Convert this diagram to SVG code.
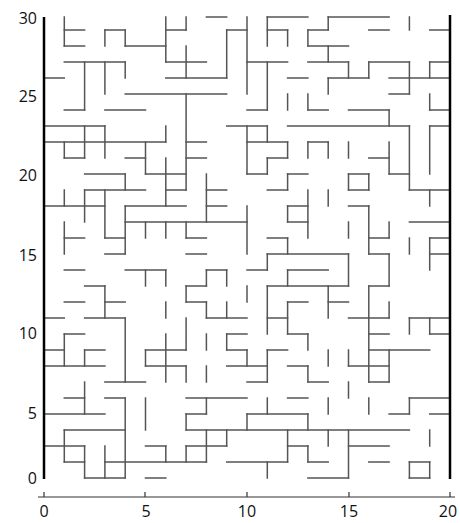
<svg xmlns="http://www.w3.org/2000/svg" width="460" height="523" viewBox="0 0 460 523">
<style>
.m path{fill:none;stroke:#555;stroke-width:1.5;vector-effect:non-scaling-stroke;stroke-linecap:square}
.b{fill:none;stroke:#000;stroke-width:2.5}
.ax{fill:none;stroke:#333;stroke-width:1.2}
text{font-family:"Open Sans","Liberation Sans",sans-serif;font-size:16px;fill:#111}
</style>
<rect width="460" height="523" fill="#fff"/>
<g id="maze" class="m" transform="matrix(20.3,0,0,16,44,14)">
<path id="h" d="M8 .19H9M11 .19H13M14 .19H17
M1 1H2M3 1H4M6 1H7M9 1H10M11 1H12M13 1H14M16 1H17M19 1H20
M1 2H2M4 2H6M13 2H15
M1 3H4M6 3H8M10 3H12M13 3H15M16 3H18M19 3H20
M0 4H1M6 4H9M12 4H13M14 4H16M17 4H20
M4 5H9M17 5H18
M1 6H2M3 6H5M10 6H11M13 6H14M15 6H17M19 6H20
M0 7H3M9 7H11M12 7H18M19 7H20
M0 8H6M7 8H8M10 8H12M13 8H14
M1 9H2M4 9H5M7 9H8M11 9H12M16 9H17
M2 10H4M5 10H7M10 10H11M12 10H13M15 10H16M17 10H18
M2 11H5M6 11H7M8 11H9M11 11H12M15 11H16M18 11H20
M0 12H3M4 12H7M8 12H9M12 12H13M15 12H16
M4 13H10M12 13H13M18 13H20
M1 14H2M3 14H4M7 14H8M11 14H12M16 14H17M19 14H20
M3 15H4M7 15H8M11 15H15M16 15H17M19 15H20
M1 16H2M4 16H6M8 16H9M10 16H11M12 16H14
M2 17H3M7 17H8M11 17H15M16 17H17
M1 18H2M3 18H4M7 18H8M12 18H13M14 18H15
M0 19H1M2 19H4M8 19H10M11 19H12M15 19H17M18 19H20
M1 20H2M9 20H10M12 20H13M16 20H17M19 20H20
M0 21H1M2 21H3M5 21H7M9 21H10M11 21H12M16 21H19
M0 22H3M5 22H7M9 22H11M12 22H13M15 22H17
M3 23H5M10 23H11M13 23H14M16 23H17
M1 24H2M3 24H4M7 24H10M12 24H13M18 24H20
M0 25H3M7 25H8M10 25H13M17 25H18M19 25H20
M1 26H4M7 26H18
M0 27H2M5 27H6M7 27H9M12 27H13M15 27H17
M1 28H2M3 28H8M9 28H12M13 28H14M16 28H17M18 28H19
M2 29H4M5 29H6M13 29H15M18 29H19"/>
<path id="v" d="M1 .19V2M1 8V9M1 11V12M1 13V15M1 20V22M1 26V28
M2 3V6M2 7V9M2 11V13M2 21V22M2 23V25M2 27V29
M3 1V2M3 3V5M3 7V9M3 11V14M3 17V19M3 27V29
M4 1V2M4 3V4M4 10V11M4 12V15M4 19V23M4 24V29
M5 8V10M5 13V14M5 16V17M5 21V22M5 24V26
M6 .19V3M6 7V8M6 9V12M6 13V14M6 16V17M6 18V19M6 20V23M6 27V28
M7 .19V1M7 2V4M7 5V11M7 13V14M7 17V18M7 19V21M7 22V23M7 25V26M7 27V28
M8 10V13M8 16V17M8 18V19M8 20V21M8 22V23M8 24V25M8 26V28
M9 1V4M9 16V17M9 18V19M9 20V21M9 26V27
M10 .19V5M10 7V10M10 12V15M10 17V18M10 21V22M10 25V26
M11 .19V2M11 3V6M11 7V8M11 9V10M11 15V16M11 17V20M11 21V23M11 24V25M11 28V29
M12 1V2M12 5V6M12 8V9M12 10V11M12 12V13M12 14V15M12 16V17M12 18V20M12 26V28
M13 1V2M13 5V6M13 8V9M13 11V14M13 20V21M13 22V23M13 25V26M13 27V28
M14 .19V1M14 2V3M14 4V5M14 8V9M14 11V12M14 17V19M14 21V22M14 24V25M14 26V27
M15 3V4M15 8V9M15 10V11M15 13V14M15 15V17M15 21V22M15 23V24M15 26V29
M16 3V4M16 10V11M16 12V15M16 17V23M16 24V25
M17 6V7M17 8V10M17 13V14M17 15V17M17 18V19M17 21V23
M18 .19V1M18 3V5M18 7V11M18 14V15M18 19V20M18 24V25M18 28V29
M19 3V4M19 5V6M19 7V10M19 11V12M19 14V16M19 19V20M19 26V27M19 28V29"/>
</g>
<g id="walls">
<path class="b" d="M44 17V479M450 15V479"/>
</g>
<g id="axis">
<path class="ax" d="M38 497H455M44 497V492M145 497V492M247 497V492M349 497V492M450 497V492"/>
<text x="44" y="517" text-anchor="middle">0</text>
<text x="146" y="517" text-anchor="middle">5</text>
<text x="247" y="517" text-anchor="middle">10</text>
<text x="349" y="517" text-anchor="middle">15</text>
<text x="448" y="517" text-anchor="middle">20</text>
<text x="37" y="24" text-anchor="end">30</text>
<text x="37" y="102" text-anchor="end">25</text>
<text x="37" y="181" text-anchor="end">20</text>
<text x="37" y="261" text-anchor="end">15</text>
<text x="37" y="339" text-anchor="end">10</text>
<text x="37" y="419" text-anchor="end">5</text>
<text x="37" y="484" text-anchor="end">0</text>
</g>
</svg>
